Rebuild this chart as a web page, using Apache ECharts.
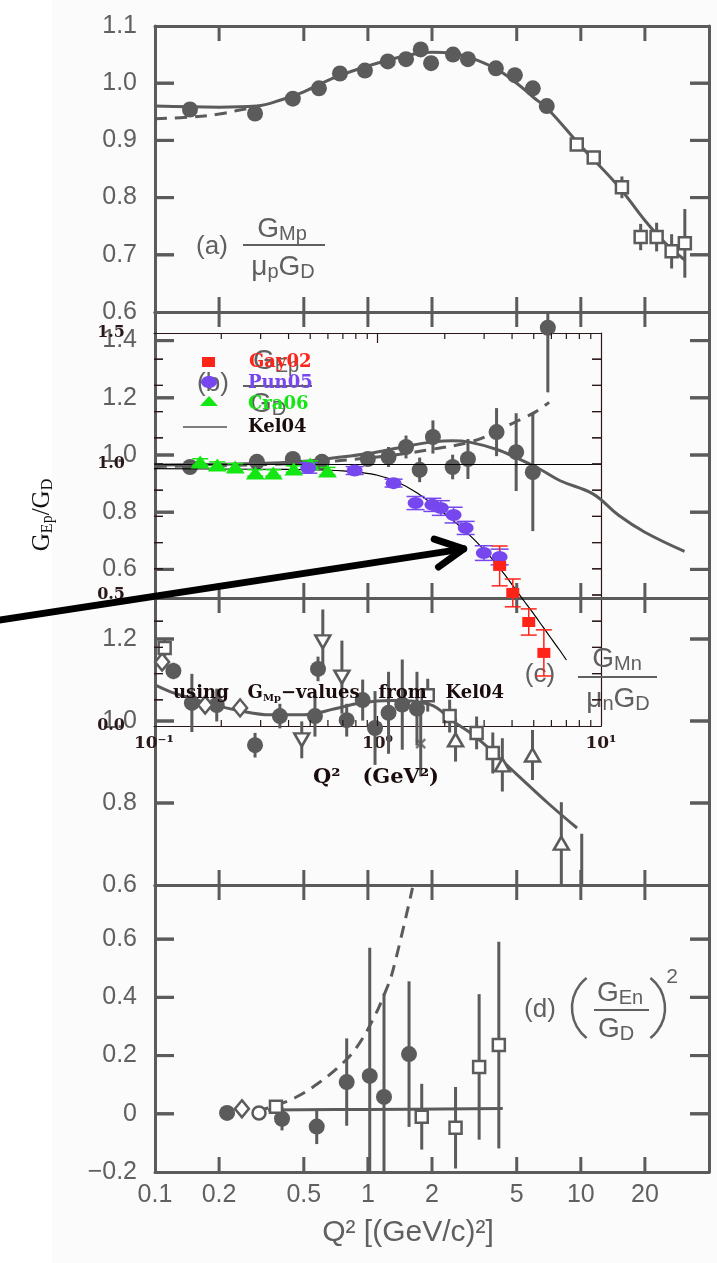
<!DOCTYPE html>
<html>
<head>
<meta charset="utf-8">
<script src="https://cdn.jsdelivr.net/npm/echarts@6/dist/echarts.min.js"></script>
<style>
  html, body { margin: 0; padding: 0; background: #fff; }
  #chart { width: 717px; height: 1263px; }
</style>
</head>
<body>
<div id="chart"></div>
<script>
// ---------- tick values ----------
const bgXTicks  = [0.2, 0.5, 1, 2, 5, 10, 20];
const bgXLabels = [0.1, 0.2, 0.5, 1, 2, 5, 10, 20];
const aYTicks = [0.6, 0.7, 0.8, 0.9, 1.0, 1.1];
const bYTicks = [0.6, 0.8, 1.0, 1.2, 1.4];
const cYTicks = [0.6, 0.8, 1.0, 1.2];
const dYTicks = [-0.2, 0, 0.2, 0.4, 0.6];
const insetXTicks = [0.1, 1, 10];
const insetXLabels = ['10⁻¹', '10⁰', '10¹'];
const insetXMinor = [0.2, 0.3, 0.4, 0.5, 0.6, 0.7, 0.8, 0.9, 2, 3, 4, 5, 6, 7, 8, 9];
const insetXMajor = [1];
const insetYTicks = [0.1, 0.2, 0.3, 0.4, 0.5, 0.6, 0.7, 0.8, 0.9, 1.0, 1.1, 1.2, 1.3, 1.4];
const insetYLabels = [0, 0.5, 1.0, 1.5];

// ---------- (a) G_Mp / (mu_p G_D) ----------
const aFilled = [[0.146,0.954],[0.295,0.947],[0.444,0.973],[0.589,0.991],[0.739,1.017],[0.968,1.022],
  [1.24,1.038],[1.51,1.042],[1.77,1.059],[1.98,1.035],[2.51,1.05],[2.95,1.042],[3.99,1.026],
  [4.9,1.014],[5.95,0.991],[6.92,0.96]];
const aOpenSq = [[9.57,0.893,0.006],[11.5,0.87,0.006],[15.6,0.818,0.019],[19.1,0.731,0.023],
  [22.7,0.731,0.025],[26.7,0.706,0.03],[30.8,0.72,0.06]];
const aFit = [[0.1,0.96],[0.2,0.958],[0.3,0.96],[0.4,0.972],[0.5,0.985],[0.7,1.01],[1,1.03],
  [1.5,1.048],[2,1.054],[2.5,1.052],[3,1.045],[4,1.025],[5,1.0],[6,0.975],[7,0.955],[10,0.89],
  [15,0.82],[20,0.76],[25,0.72],[31,0.69]];
const aFitDashed = [[0.1,0.938],[0.15,0.941],[0.2,0.946],[0.25,0.953],[0.3,0.958]];

// ---------- (b) G_Ep / G_D ----------
const bFilled = [[0.146,0.958,0.01],[0.301,0.976,0.01],[0.444,0.986,0.01],[0.608,0.976,0.01],
  [0.999,0.986,0.015],[1.25,0.993,0.035],[1.51,1.028,0.04],[2.02,1.063,0.058],[1.75,0.948,0.043],
  [2.5,0.958,0.043],[2.95,0.986,0.07],[4.02,1.08,0.084],[4.97,1.01,0.136],[5.95,0.94,0.206],
  [7.0,1.445,0.226]];
const bFit = [[0.1,0.965],[0.3,0.97],[0.5,0.978],[0.7,0.99],[1,1.005],[1.5,1.03],[2,1.045],
  [2.5,1.05],[3,1.045],[4,1.02],[5,0.99],[6.4,0.951],[8,0.91],[11.4,0.864],[15,0.79],[20,0.73],
  [30.7,0.663]];
const bFitDashed = [[0.1,0.96],[0.3,0.966],[0.6,0.975],[1,0.99],[1.5,1.005],[2,1.02],[3,1.045],
  [4,1.08],[4.7,1.108],[5.4,1.13],[6.1,1.15],[7.1,1.184]];

// ---------- (c) G_Mn / (mu_n G_D) ----------
const cFilled = [[0.122,1.122,0.02],[0.149,1.044,0.071],[0.195,1.039,0.04],[0.295,0.941,0.03],
  [0.386,1.012,0.03],[0.564,1.012,0.05],[0.583,1.127,0.03],[0.795,1.002,0.04],[0.945,1.051,0.05],
  [1.08,0.983,0.09],[1.25,1.02,0.1],[1.45,1.04,0.11],[1.7,1.03,0.09]];
const cDiamond = [[0.108,1.144,0.02],[0.172,1.039,0.02],[0.251,1.032,0.02]];
const cOpenSq = [[0.111,1.178,0.02],[1.91,1.063,0.04],[2.42,1.012,0.04],[3.24,0.971,0.04],[3.86,0.922,0.05]];
const cTriDown = [[0.489,0.954,0.045],[0.614,1.193,0.079],[0.755,1.107,0.089]];
const cTriUp = [[2.58,0.954,0.053],[4.28,0.893,0.065],[5.93,0.917,0.061],[8.1,0.702,0.1],[10.1,0.595,0.13]];
const cCross = [[1.77,0.945,0.08]];
const cFit = [[0.1,1.088],[0.12,1.07],[0.15,1.055],[0.175,1.044],[0.25,1.025],[0.35,1.015],
  [0.5,1.015],[0.7,1.03],[0.92,1.044],[1.3,1.05],[1.96,1.04],[2.5,1.0],[3.25,0.959],[5,0.87],
  [7,0.8],[9.6,0.739]];

// ---------- (d) (G_En / G_D)^2 ----------
const dFilled = [[0.218,0.003,0],[0.395,-0.017,0.04],[0.575,-0.044,0.06],[0.795,0.109,0.15],
  [1.02,0.13,0.44],[1.19,0.058,0.355],[1.56,0.205,0.25]];
const dDiamond = [[0.256,0.017]];
const dOpenCircle = [[0.308,0.003]];
const dOpenSq = [[0.37,0.024,0],[1.79,-0.01,0.113],[2.58,-0.048,0.14],[3.33,0.161,0.25],[4.12,0.236,0.355]];
const dFit = [[0.34,0.013],[1,0.015],[4.3,0.018]];
const dFitDashed = [[0.3,0.01],[0.339,0.02],[0.454,0.055],[0.595,0.109],[0.762,0.174],[0.887,0.229],
  [1.05,0.32],[1.2,0.414],[1.31,0.492],[1.62,0.776]];

// ---------- inset: G_Ep / G_D from polarization data ----------
const gay02 = [[3.52,0.611,0.076],[4.03,0.508,0.053],[4.75,0.397,0.05],[5.55,0.279,0.088]];
const pun05 = [[0.49,0.985,0.02],[0.79,0.975,0.015],[1.18,0.927,0.015],[1.48,0.851,0.025],
  [1.76,0.844,0.025],[1.92,0.832,0.028],[2.19,0.805,0.03],[2.48,0.756,0.025],[2.99,0.66,0.028],
  [3.52,0.645,0.03]];
const cra06 = [[0.161,1.008,0.012],[0.192,0.996,0.012],[0.231,0.989,0.012],[0.284,0.966,0.012],
  [0.342,0.966,0.012],[0.422,0.981,0.012],[0.5,1.0,0.012],[0.597,0.973,0.014]];
const kel04 = [[0.1,0.982],[0.3,0.98],[0.5,0.978],[0.7,0.974],[0.85,0.967],[1.0,0.957],[1.2,0.935],
  [1.5,0.89],[2.0,0.81],[2.5,0.74],[3.0,0.672],[3.5,0.605],[4.0,0.54],[4.5,0.48],[5.0,0.428],
  [5.5,0.378],[6.0,0.333],[6.5,0.292],[7.0,0.252]];
const arrowTail = [0.015, 0.387];
const arrowTip = [2.43, 0.676];

// ---------- styling ----------
const ink = '#5b5b5b';
const inkText = '#606060';
const insetInk = '#2a1818';
const red = '#ff2418', purple = '#7646ee', green = '#14e614';
const sans = "'Liberation Sans', Arial, sans-serif";
const serif = "'DejaVu Serif', 'Liberation Serif', serif";
const tnr = "'Liberation Serif', 'DejaVu Serif', serif";

const bgLeft = 155, bgRight = 8, chartW = 717;
const panelLayout = [
  { top: 26,  height: 286, min: 0.6,  max: 1.1,   ticks: aYTicks },
  { top: 312, height: 286, min: 0.5,  max: 1.5,   ticks: bYTicks },
  { top: 598, height: 287, min: 0.6,  max: 1.3,   ticks: cYTicks },
  { top: 885, height: 287, min: -0.2, max: 0.786, ticks: dYTicks }
];
const bgXMin = 0.1, bgXMax = 40;
const insetBox = { left: 154, top: 333, width: 447, height: 393 };
const insetXMin = 0.1, insetXMax = 10, insetYMin = 0, insetYMax = 1.5;

function fmtY(v) {
  if (Math.abs(v) < 1e-9) return '0';
  return (v < 0 ? '−' : '') + Math.abs(v).toFixed(1);
}

const grid = [], xAxis = [], yAxis = [];
panelLayout.forEach((p, i) => {
  grid.push({ left: bgLeft, right: bgRight, top: p.top, height: p.height });
  const xb = {
    type: 'log', logBase: 10, min: bgXMin, max: bgXMax, gridIndex: i,
    axisLine: { show: true, onZero: false, lineStyle: { color: ink, width: 3 } },
    axisTick: { show: false }, splitLine: { show: false }, minorTick: { show: false }
  };
  xAxis.push(Object.assign({}, xb, {
    position: 'bottom',
    axisLabel: i === 3 ? {
      show: true, customValues: bgXLabels, formatter: v => String(+v.toPrecision(3)),
      color: inkText, fontFamily: sans, fontSize: 25, margin: 11
    } : { show: false }
  }));
  xAxis.push(Object.assign({}, xb, { position: 'top', axisLabel: { show: false } }));
  const yb = {
    type: 'value', gridIndex: i, min: p.min, max: p.max,
    axisLine: { show: true, onZero: false, lineStyle: { color: ink, width: 3 } },
    axisTick: { show: false }, splitLine: { show: false }
  };
  yAxis.push(Object.assign({}, yb, {
    position: 'left',
    axisLabel: { show: true, customValues: p.ticks, formatter: fmtY, color: inkText, fontFamily: sans, fontSize: 25, margin: 18 }
  }));
  yAxis.push(Object.assign({}, yb, { position: 'right', axisLabel: { show: false } }));
});

// inset grid (index 4), axes 8 and 9
grid.push({ left: insetBox.left, top: insetBox.top, width: insetBox.width, height: insetBox.height });
const insetAxisLine = { show: true, onZero: false, lineStyle: { color: insetInk, width: 1.2 } };
xAxis.push({
  type: 'log', logBase: 10, min: insetXMin, max: insetXMax, gridIndex: 4, position: 'bottom',
  axisLine: insetAxisLine, axisTick: { show: false },
  axisLabel: {
    show: true, customValues: insetXTicks,
    formatter: v => insetXLabels[Math.round(Math.log10(v)) + 1],
    color: insetInk, fontFamily: serif, fontWeight: 'bold', fontSize: 17, margin: 9
  },
  splitLine: { show: false }
});
xAxis.push({
  type: 'log', logBase: 10, min: insetXMin, max: insetXMax, gridIndex: 4, position: 'top',
  axisLine: insetAxisLine, axisTick: { show: false }, axisLabel: { show: false }, splitLine: { show: false }
});
yAxis.push({
  type: 'value', gridIndex: 4, min: insetYMin, max: insetYMax, position: 'left',
  axisLine: { show: false, onZero: false }, axisTick: { show: false },
  axisLabel: {
    show: true, customValues: insetYLabels, formatter: v => v.toFixed(1),
    color: insetInk, fontFamily: serif, fontWeight: 'bold', fontSize: 16, margin: 29
  },
  splitLine: { show: false }
});
yAxis.push({
  type: 'value', gridIndex: 4, min: insetYMin, max: insetYMax, position: 'right',
  axisLine: insetAxisLine, axisTick: { show: false }, axisLabel: { show: false }, splitLine: { show: false }
});

// ---------- series helpers ----------
// vertical bar from y-e to y+e, optionally with horizontal caps of half-width capHalf (px)
function errorBars(color, width, capHalf) {
  return function (params, api) {
    const x = api.value(0), y = api.value(1), e = api.value(2);
    const t = api.coord([x, y + e]), b = api.coord([x, y - e]);
    const st = { stroke: color, lineWidth: width, fill: null };
    const children = [{ type: 'line', shape: { x1: t[0], y1: t[1], x2: b[0], y2: b[1] }, style: st }];
    if (capHalf) {
      children.push({ type: 'line', shape: { x1: t[0] - capHalf, y1: t[1], x2: t[0] + capHalf, y2: t[1] }, style: st });
      children.push({ type: 'line', shape: { x1: b[0] - capHalf, y1: b[1], x2: b[0] + capHalf, y2: b[1] }, style: st });
    }
    return { type: 'group', children };
  };
}
function errSeries(ax, data, color, width, cap, z, clip) {
  return {
    type: 'custom', xAxisIndex: ax, yAxisIndex: ax, clip: clip,
    data: data.filter(d => d[2] > 0), encode: { x: 0, y: 1 },
    renderItem: errorBars(color, width, cap), z: z, silent: true
  };
}
// Frame ticks are drawn with the same bar helper: vertical ticks as short bars that
// start on the bottom/top edge, horizontal ticks as zero-height bars whose caps reach
// in from the left/right edge.
function xTickData(values, yLo, yHi, half) {
  const out = [];
  values.forEach(q => { out.push([q, yLo + half, half]); out.push([q, yHi - half, half]); });
  return out;
}
function yTickData(values, xLeftMid, xRightMid) {
  const out = [];
  values.forEach(v => { out.push([xLeftMid, v, 1e-9]); out.push([xRightMid, v, 1e-9]); });
  return out;
}
function bgScatter(i, data, symbol, size, open, rotate) {
  return {
    type: 'scatter', xAxisIndex: 2 * i, yAxisIndex: 2 * i,
    data: data.map(d => [d[0], d[1]]), symbol: symbol, symbolSize: size, symbolRotate: rotate || 0,
    itemStyle: open ? { color: '#fdfdfd', borderColor: ink, borderWidth: 2.5, opacity: 1 } : { color: ink, opacity: 1 },
    z: 4, silent: true
  };
}
function bgLine(i, data, dashed) {
  return {
    type: 'line', xAxisIndex: 2 * i, yAxisIndex: 2 * i, data: data, smooth: 0.4,
    showSymbol: false, symbol: 'none',
    lineStyle: { color: ink, width: 3, type: dashed ? [12, 8] : 'solid' }, z: 3, silent: true
  };
}
const crossPath = 'path://M0,0L10,10M10,0L0,10';

const series = [
  // (a)
  bgLine(0, aFit), bgLine(0, aFitDashed, true),
  errSeries(0, aOpenSq, ink, 3, 0, 3, true),
  bgScatter(0, aFilled, 'circle', 16),
  bgScatter(0, aOpenSq, 'rect', 12, true),
  // (b)
  bgLine(1, bFit), bgLine(1, bFitDashed, true),
  errSeries(2, bFilled, ink, 3, 0, 3, true),
  bgScatter(1, bFilled, 'circle', 16),
  // (c)
  bgLine(2, cFit),
  errSeries(4, cFilled, ink, 3, 0, 3, true),
  errSeries(4, cDiamond, ink, 3, 0, 3, true),
  errSeries(4, cOpenSq, ink, 3, 0, 3, true),
  errSeries(4, cTriDown, ink, 3, 0, 3, true),
  errSeries(4, cTriUp, ink, 3, 0, 3, true),
  errSeries(4, cCross, ink, 3, 0, 3, true),
  bgScatter(2, cFilled, 'circle', 16),
  bgScatter(2, cDiamond, 'diamond', [14, 17], true),
  bgScatter(2, cOpenSq, 'rect', 12, true),
  bgScatter(2, cTriDown, 'triangle', [15, 13], true, 180),
  bgScatter(2, cTriUp, 'triangle', [15, 13], true),
  Object.assign(bgScatter(2, cCross, crossPath, 9, false), { itemStyle: { color: ink, borderColor: ink, borderWidth: 2.5 } }),
  // (d)
  bgLine(3, dFit), bgLine(3, dFitDashed, true),
  errSeries(6, dFilled, ink, 3, 0, 3, true),
  errSeries(6, dOpenSq, ink, 3, 0, 3, true),
  bgScatter(3, dFilled, 'circle', 16),
  bgScatter(3, dDiamond, 'diamond', [14, 17], true),
  bgScatter(3, dOpenCircle, 'circle', 13, true),
  bgScatter(3, dOpenSq, 'rect', 12, true)
];

// frame ticks of the four panels (15 px on top/bottom, 19 px on left/right)
const bgPxPerDecade = (chartW - bgLeft - bgRight) / Math.log10(bgXMax / bgXMin);
const bgYTickStep = Math.pow(10, 9.5 / bgPxPerDecade);
panelLayout.forEach((p, i) => {
  const perPx = (p.max - p.min) / p.height;
  const inner = p.ticks.filter(v => v > p.min + 1e-6 && v < p.max - 1e-6);
  series.push(errSeries(2 * i, xTickData(bgXTicks, p.min, p.max, 7.5 * perPx), ink, 3, 0, 5, true));
  series.push(errSeries(2 * i, yTickData(inner, bgXMin * bgYTickStep, bgXMax / bgYTickStep), ink, 3, 9.5, 5, true));
});
// frame ticks of the inset
const insetPxPerDecade = insetBox.width / Math.log10(insetXMax / insetXMin);
const insetPerPx = (insetYMax - insetYMin) / insetBox.height;
const insetYTickStep = Math.pow(10, 4.5 / insetPxPerDecade);
series.push(
  errSeries(8, xTickData(insetXMinor, insetYMin, insetYMax, 3 * insetPerPx), insetInk, 1.2, 0, 7, false),
  errSeries(8, xTickData(insetXMajor, insetYMin, insetYMax, 5 * insetPerPx), insetInk, 1.2, 0, 7, false),
  errSeries(8, yTickData(insetYTicks, insetXMin * insetYTickStep, insetXMax / insetYTickStep), insetInk, 1.2, 4.5, 7, false)
);

series.push(
  // inset curves and data
  {
    name: 'Kel04', type: 'line', xAxisIndex: 8, yAxisIndex: 8, data: kel04, smooth: 0.3,
    showSymbol: false, symbol: 'none', lineStyle: { color: '#000', width: 1.2 }, z: 6, silent: true,
    markLine: {
      silent: true, symbol: 'none', label: { show: false },
      lineStyle: { color: '#000', width: 1, type: 'solid' }, data: [{ yAxis: 1 }]
    }
  },
  errSeries(8, cra06, green, 1.5, 8, 7, false),
  {
    name: 'Cra06', type: 'scatter', xAxisIndex: 8, yAxisIndex: 8, data: cra06.map(d => [d[0], d[1]]),
    symbol: 'triangle', symbolSize: [19, 13], itemStyle: { color: green, opacity: 1 }, z: 8, silent: true
  },
  errSeries(8, pun05, purple, 1.5, 9, 7, false),
  {
    name: 'Pun05', type: 'scatter', xAxisIndex: 8, yAxisIndex: 8, data: pun05.map(d => [d[0], d[1]]),
    symbol: 'circle', symbolSize: [16, 12], itemStyle: { color: purple, opacity: 1 }, z: 8, silent: true
  },
  errSeries(8, gay02, red, 1.5, 8, 7, false),
  {
    name: 'Gay02', type: 'scatter', xAxisIndex: 8, yAxisIndex: 8, data: gay02.map(d => [d[0], d[1]]),
    symbol: 'rect', symbolSize: [13, 10], itemStyle: { color: red, opacity: 1 }, z: 8, silent: true
  },
  // pointer arrow
  {
    type: 'custom', xAxisIndex: 8, yAxisIndex: 8, clip: false, z: 12, silent: true,
    data: [[arrowTail[0], arrowTail[1], arrowTip[0], arrowTip[1]]],
    encode: { x: [0, 2], y: [1, 3] },
    renderItem: function (params, api) {
      const a = api.coord([api.value(0), api.value(1)]);
      const b = api.coord([api.value(2), api.value(3)]);
      const ang = Math.atan2(a[1] - b[1], a[0] - b[0]);
      const L = 31, h = 27 * Math.PI / 180;
      const w1 = [b[0] + L * Math.cos(ang + h), b[1] + L * Math.sin(ang + h)];
      const w2 = [b[0] + L * Math.cos(ang - h), b[1] + L * Math.sin(ang - h)];
      const st = { stroke: '#000', lineWidth: 7, lineCap: 'round', lineJoin: 'round', fill: null };
      return {
        type: 'group', children: [
          { type: 'line', shape: { x1: a[0], y1: a[1], x2: b[0], y2: b[1] }, style: st },
          { type: 'polyline', shape: { points: [w1, b, w2] }, style: st }
        ]
      };
    }
  }
);

// ---------- text annotations ----------
function txt(x, y, text, extra) {
  return {
    type: 'text', z: 1,
    style: Object.assign({
      x: x, y: y, text: text, fill: inkText, font: '26px ' + sans,
      textAlign: 'center', textVerticalAlign: 'middle', align: 'center', verticalAlign: 'middle'
    }, extra || {})
  };
}
const fracRich = {
  m: { fontSize: 28, lineHeight: 30, fontFamily: sans, fill: inkText },
  s: { fontSize: 20, lineHeight: 12, fontFamily: sans, fill: inkText, verticalAlign: 'bottom' }
};
function richTxt(x, y, text, rich, extra) {
  return txt(x, y, text, Object.assign({ rich: rich }, extra || {}));
}
function bar(x1, x2, y) {
  return { type: 'line', z: 1, shape: { x1: x1, y1: y, x2: x2, y2: y }, style: { stroke: inkText, lineWidth: 2 } };
}
const serifBold = (size, color) => ({ font: 'bold ' + size + 'px ' + serif, fill: color });
const leftAligned = { textAlign: 'left', align: 'left' };

const graphic = [
  { type: 'rect', z: -10, shape: { x: 52, y: 0, width: 665, height: 1263 }, style: { fill: '#fbfbfb' }, silent: true },
  // (a)
  txt(212, 247, '(a)'),
  richTxt(282, 229, '{m|G}{s|Mp}', fracRich),
  bar(243, 325, 245),
  richTxt(283, 267, '{m|μ}{s|p}{m|G}{s|D}', fracRich),
  // (b)
  txt(213, 384, '(b)'),
  richTxt(276, 361, '{m|G}{s|Ep}', fracRich),
  bar(243, 312, 386),
  richTxt(268, 404, '{m|G}{s|D}', fracRich),
  // (c)
  txt(540, 675, '(c)'),
  richTxt(617, 659, '{m|G}{s|Mn}', fracRich),
  bar(578, 657, 677),
  richTxt(618, 699, '{m|μ}{s|n}{m|G}{s|D}', fracRich),
  // (d)
  txt(540, 1010, '(d)'),
  { type: 'arc', z: 1, shape: { cx: 610, cy: 1008, r: 38, startAngle: 128 * Math.PI / 180, endAngle: 232 * Math.PI / 180, clockwise: true }, style: { stroke: inkText, lineWidth: 2.5, fill: null } },
  { type: 'arc', z: 1, shape: { cx: 627, cy: 1008, r: 38, startAngle: -52 * Math.PI / 180, endAngle: 52 * Math.PI / 180, clockwise: true }, style: { stroke: inkText, lineWidth: 2.5, fill: null } },
  richTxt(620, 993, '{m|G}{s|En}', fracRich),
  bar(594, 649, 1010),
  richTxt(616, 1029, '{m|G}{s|D}', fracRich),
  txt(672, 977, '2', { font: '21px ' + sans }),
  // bottom axis title
  txt(408, 1233, 'Q² [(GeV/c)²]', { font: '30px ' + sans }),

  // inset legend
  { type: 'rect', z: 30, shape: { x: 202, y: 357, width: 13, height: 10 }, style: { fill: red } },
  { type: 'ellipse', z: 30, shape: { cx: 209, cy: 382, rx: 8, ry: 6 }, style: { fill: purple } },
  { type: 'polygon', z: 30, shape: { points: [[200, 406], [218, 406], [209, 396]] }, style: { fill: green } },
  { type: 'line', z: 30, shape: { x1: 183, y1: 427, x2: 227, y2: 427 }, style: { stroke: '#555', lineWidth: 1.5 } },
  Object.assign(txt(249, 362, 'Gay02', Object.assign(serifBold(18, red), leftAligned)), { z: 30 }),
  Object.assign(txt(248, 383, 'Pun05', Object.assign(serifBold(18, purple), leftAligned)), { z: 30 }),
  Object.assign(txt(248, 404, 'Cra06', Object.assign(serifBold(18, green), leftAligned)), { z: 30 }),
  Object.assign(txt(248, 427, 'Kel04', Object.assign(serifBold(18, '#1a0c0c'), leftAligned)), { z: 30 }),

  // inset note
  Object.assign(richTxt(173, 693, '{t|using   G}{s|Mp}{t|−values   from   Kel04}', {
    t: { font: 'bold 18px ' + serif, fill: '#1a0c0c', lineHeight: 20 },
    s: { font: 'bold 10px ' + serif, fill: '#1a0c0c', lineHeight: 10, verticalAlign: 'bottom' }
  }, leftAligned), { z: 30 }),
  // inset axis titles
  Object.assign(txt(376, 778, 'Q²   (GeV²)', serifBold(21, '#1a0c0c')), { z: 30 }),
  {
    type: 'text', z: 30, x: 42, y: 515, rotation: Math.PI / 2,
    style: {
      x: 0, y: 0, text: '{m|G}{s|Ep}{m|/G}{s|D}',
      textAlign: 'center', textVerticalAlign: 'middle', align: 'center', verticalAlign: 'middle',
      rich: {
        m: { fontSize: 25, lineHeight: 28, fontFamily: tnr, fill: '#111' },
        s: { fontSize: 16, lineHeight: 12, fontFamily: tnr, fill: '#111', verticalAlign: 'bottom' }
      }
    }
  }
];

const chart = echarts.init(document.getElementById('chart'), null, { renderer: 'canvas', width: 717, height: 1263 });
chart.setOption({
  animation: false,
  backgroundColor: '#ffffff',
  textStyle: { fontFamily: sans },
  grid: grid,
  xAxis: xAxis,
  yAxis: yAxis,
  series: series,
  graphic: graphic
});
</script>
</body>
</html>
